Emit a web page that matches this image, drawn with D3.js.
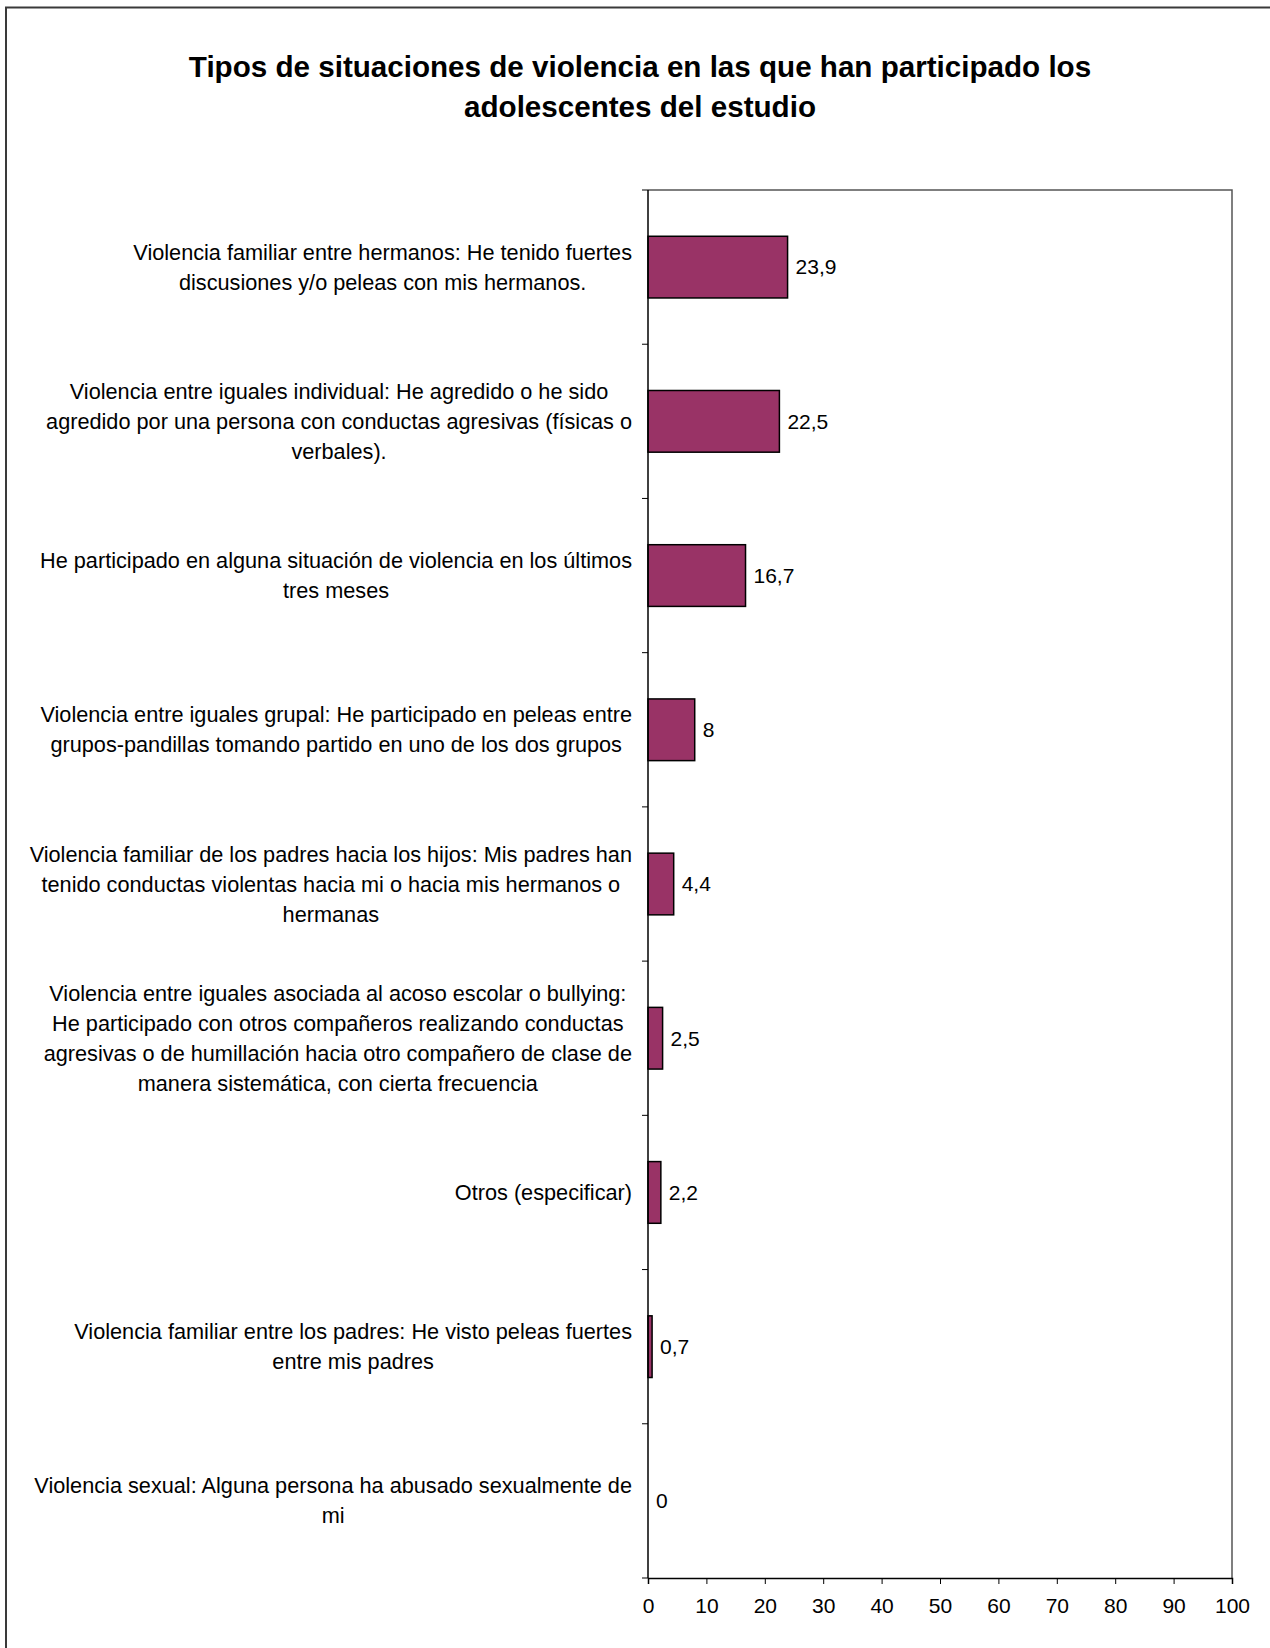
<!DOCTYPE html>
<html>
<head>
<meta charset="utf-8">
<script src="https://cdn.jsdelivr.net/npm/d3@7"></script>
<style>
  body { margin: 0; background: #fff; }
  text { font-family: "Liberation Sans", Arial, sans-serif; fill: #000; }
</style>
</head>
<body>
<svg id="chart" width="1270" height="1648"></svg>
<script>
// Survey categories (each entry is the list of wrapped lines of its label)
const categories = [
  ["Violencia familiar entre hermanos: He tenido fuertes", "discusiones y/o peleas con mis hermanos."],
  ["Violencia entre iguales individual: He agredido o he sido", "agredido por una persona con conductas agresivas (físicas o", "verbales)."],
  ["He participado en alguna situación de violencia en los últimos", "tres meses"],
  ["Violencia entre iguales grupal: He participado en peleas entre", "grupos-pandillas tomando partido en uno de los dos grupos"],
  ["Violencia familiar de los padres hacia los hijos: Mis padres han", "tenido conductas violentas hacia mi o hacia mis hermanos o", "hermanas"],
  ["Violencia entre iguales asociada al acoso escolar o bullying:", "He participado con otros compañeros realizando conductas", "agresivas o de humillación hacia otro compañero de clase de", "manera sistemática, con cierta frecuencia"],
  ["Otros (especificar)"],
  ["Violencia familiar entre los padres: He visto peleas fuertes", "entre mis padres"],
  ["Violencia sexual: Alguna persona ha abusado sexualmente de", "mi"]
];
// Percentage of adolescents for each category
const values = [23.9, 22.5, 16.7, 8, 4.4, 2.5, 2.2, 0.7, 0];
const xTicks = [0, 10, 20, 30, 40, 50, 60, 70, 80, 90, 100];
const titleLines = ["Tipos de situaciones de violencia en las que han participado los", "adolescentes del estudio"];

const svg = d3.select("#chart");
const plot = { left: 648, right: 1232, top: 190, bottom: 1578 };
const labelFont = 21.7;
const valueFont = 21;
const lineHeight = 30;

// Outer frame of the chart object
svg.append("rect")
  .attr("x", 6).attr("y", 7.5)
  .attr("width", 1300).attr("height", 1700)
  .attr("fill", "none").attr("stroke", "#3a3a3a").attr("stroke-width", 2);

// Title
svg.append("g").selectAll("text").data(titleLines).join("text")
  .attr("x", 640).attr("y", (d, i) => 77 + i * 40)
  .attr("text-anchor", "middle")
  .style("font-size", "29.6px").style("font-weight", "bold")
  .text(d => d);

const ids = d3.range(categories.length);
const x = d3.scaleLinear().domain([0, 100]).range([plot.left, plot.right]);
const y = d3.scaleBand().domain(ids).range([plot.top, plot.bottom])
  .paddingInner(0.6).paddingOuter(0.3);
const step = y.step();

// Plot frame: top and right sides
svg.append("path")
  .attr("d", `M${plot.left},${plot.top}H${plot.right}V${plot.bottom}`)
  .attr("fill", "none").attr("stroke", "#555").attr("stroke-width", 1.5);

// Bars
svg.append("g").selectAll("rect").data(values).join("rect")
  .attr("x", x(0))
  .attr("y", (d, i) => y(i))
  .attr("width", d => x(d) - x(0))
  .attr("height", y.bandwidth())
  .attr("fill", "#993366")
  .attr("stroke", "#000").attr("stroke-width", 1.5)
  .attr("display", d => d > 0 ? null : "none");

// Value labels
const fmt = v => String(v).replace(".", ",");
svg.append("g").selectAll("text").data(values).join("text")
  .attr("x", d => x(d) + 8)
  .attr("y", (d, i) => y(i) + y.bandwidth() / 2)
  .attr("dy", "0.35em")
  .style("font-size", valueFont + "px")
  .text(d => fmt(d));

// X axis
const xAxis = svg.append("g")
  .attr("transform", `translate(0,${plot.bottom})`)
  .call(d3.axisBottom(x).tickValues(xTicks).tickSize(6).tickPadding(14).tickFormat(d => d));
xAxis.select(".domain").attr("stroke", "#000").attr("stroke-width", 1.5);
xAxis.selectAll(".tick line").attr("stroke", "#000").attr("stroke-width", 1);
xAxis.selectAll(".tick text").style("font-size", valueFont + "px")
  .style("font-family", "'Liberation Sans', Arial, sans-serif");

// Y axis line and category separators
const boundaries = d3.range(categories.length + 1).map(i => plot.top + i * step);
svg.append("line")
  .attr("x1", plot.left).attr("x2", plot.left)
  .attr("y1", plot.top).attr("y2", plot.bottom)
  .attr("stroke", "#000").attr("stroke-width", 1.5);
svg.append("g").selectAll("line").data(boundaries).join("line")
  .attr("x1", plot.left - 6).attr("x2", plot.left)
  .attr("y1", d => d).attr("y2", d => d)
  .attr("stroke", "#000").attr("stroke-width", 1);

// Category labels: lines centred within a block right-aligned next to the axis
const labelRight = plot.left - 16;
categories.forEach((lines, i) => {
  const g = svg.append("g");
  const cy = y(i) + y.bandwidth() / 2;
  const texts = g.selectAll("text").data(lines).join("text")
    .style("font-size", labelFont + "px")
    .attr("text-anchor", "middle")
    .attr("dy", "0.35em")
    .attr("y", (d, k) => cy + (k - (lines.length - 1) / 2) * lineHeight)
    .text(d => d);
  let maxW = 0;
  texts.each(function () { maxW = Math.max(maxW, this.getComputedTextLength()); });
  texts.attr("x", labelRight - maxW / 2);
});
</script>
</body>
</html>
